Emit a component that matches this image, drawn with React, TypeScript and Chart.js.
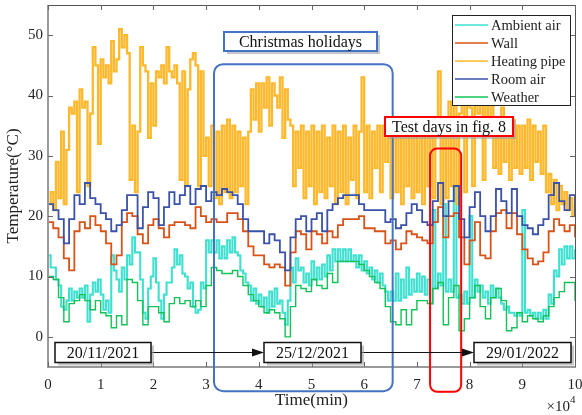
import { useEffect, useRef } from "react";
import { Chart, registerables } from "chart.js";

Chart.register(...registerables);

// ---------- data ----------
const FINE_STEP = 500; // minutes between samples (ambient air, heating pipe)
const COARSE_STEP = 1000; // minutes between samples (wall, room air, weather)
const X_TICKS = [0, 10000, 20000, 30000, 40000, 50000, 60000, 70000, 80000, 90000, 100000];
const Y_TICKS = [0, 10, 20, 30, 40, 50];

const SERIES_NAMES = ["Ambient air", "Wall", "Heating pipe", "Room air", "Weather"];

const AMBIENT_AIR = [
  13.5, 11.5, 11.5, 9.5, 8.5, 5, 4.5, 6, 8, 6,
  7.5, 6.5, 8, 6.5, 8.5, 2.5, 7, 9, 7.5, 9.5,
  7, 4.5, 6, 4, 13.5, 11, 9.5, 7.5, 11.5, 9.5,
  13.5, 12, 16.5, 14, 14, 9.5, 4, 3, 8, 10,
  13, 9, 6, 3, 7, 9, 9, 11.5, 14.5, 12,
  13.5, 10.5, 10, 8, 9, 5, 4, 4.5, 9, 8,
  16, 14, 16, 14, 16, 13, 15, 13, 16, 14,
  16.5, 14, 13.5, 11, 10.5, 9, 8.5, 6, 8, 5.5,
  7, 5, 6.5, 4, 7.5, 5, 8, 5.5, 6, 4,
  2, 6, 11.5, 9, 13, 11, 11.5, 9, 10.5, 8.5,
  12.5, 9.5, 11.5, 9.5, 12, 10, 13.5, 11, 14.5, 12.5,
  14.5, 12.5, 14.5, 12.5, 14.5, 12.5, 13.5, 11.5, 13.5, 11,
  12.5, 10.5, 11.5, 9.5, 11, 9, 10.5, 8.5, 7.5, 6,
  7.5, 6, 10.5, 6, 9.5, 6.5, 11.5, 7, 9.5, 7.5,
  10.5, 7.5, 10, 7, 9.5, 5.5, 21, 8, 10.5, 8.5,
  22, 7.5, 9.5, 7.5, 25, 6.5, 7, 5.5, 7.5, 5.5,
  20, 6.5, 9.5, 7.5, 8.5, 6.5, 7.5, 5.5, 8.5, 6.5,
  8, 6.5, 5.5, 4.5, 5, 4, 4, 3.5, 4, 3.5,
  21, 4, 4.5, 3.5, 4, 3, 4, 3, 4.5, 3,
  7, 5.5, 11, 10, 14.5, 12, 15, 13, 15, 13,
  14.5,
];

const HEATING_PIPE = [
  22, 24, 21, 29, 23, 34, 22, 31, 38, 37,
  39, 24, 41, 38, 39, 25, 37, 48, 45, 32,
  46, 43, 45, 42, 49, 44, 46, 51, 48, 50,
  47, 26, 35, 24, 34, 48, 45, 44, 33, 42,
  35, 44, 43, 45, 42, 48, 44, 43, 45, 42,
  26, 44, 25, 41, 46, 47, 45, 25, 44, 30,
  33, 25, 35, 23, 34, 22, 35, 24, 36, 23,
  35, 24, 34, 25, 33, 22, 34, 41, 36, 42,
  34, 42, 38, 43, 35, 42, 40, 38, 43, 33,
  41, 36, 35, 25, 34, 28, 35, 23, 34, 25,
  35, 22, 34, 24, 35, 23, 33, 25, 35, 22,
  34, 24, 35, 22, 33, 26, 35, 23, 34, 43,
  24, 35, 23, 34, 28, 35, 24, 35, 29, 34,
  23, 35, 24, 34, 22, 35, 25, 34, 23, 35,
  24, 34, 22, 35, 25, 33, 23, 34, 44, 22,
  36, 23, 39, 25, 40, 22, 37, 42, 24, 44,
  38, 25, 43, 37, 40, 26, 39, 36, 41, 28,
  36, 27, 38, 29, 35, 26, 36, 28, 35, 27,
  35, 28, 36, 26, 35, 29, 34, 27, 35, 24,
  27, 22, 26, 21, 25, 22, 24, 21, 23, 20, 22,
];

const WALL = [
  19, 18, 16.5, 13, 11, 17.5, 19, 18, 20, 18.5,
  17.5, 15.5, 12, 13.5, 19, 20.5, 20, 17, 15.5, 18.5,
  19.5, 18, 16.5, 18.5, 19, 19, 18.5, 18, 21.5, 20,
  19, 19.5, 19, 19, 20.5, 20.5, 19.5, 17.5, 15, 13.5,
  13.5, 12, 11.5, 12, 11.5, 8.5, 14, 17.5, 17, 14.5,
  17.5, 17, 15.5, 17.5, 16.5, 18.5, 19.5, 19.5, 19.5, 20,
  18, 18, 17.5, 17.5, 15.5, 16, 14.5, 15.5, 17.5, 17,
  16.5, 16, 15.5, 19, 21.5, 16.5, 20, 20.5, 16.5, 12,
  16, 19, 13.5, 13, 17.5, 20.5, 21, 18, 20.5, 17,
  14.5, 13, 12, 12.5, 14, 17.5, 19.5, 18.5, 17.5, 18.5,
  16.5,
];

const ROOM_AIR = [
  22, 21, 19.5, 15.5, 19.5, 23.5, 22, 25.5, 23, 22,
  20.5, 19.5, 17.5, 18.5, 21, 23.5, 23.5, 18, 21.5, 24,
  23, 18.5, 21.5, 24, 22, 23.5, 25, 22, 24.5, 25,
  22.5, 24, 23.5, 24.5, 24, 23.5, 22, 19.5, 17.5, 17.5,
  17.5, 15.5, 17, 16, 14, 11, 16.5, 19.5, 20, 17.5,
  19.5, 20.5, 17.5, 21, 22, 23, 23.5, 23.5, 23.5, 22,
  21, 21, 21, 21, 19, 19.5, 18, 18.5, 20.5, 22,
  21, 19, 18.5, 22.5, 25.5, 20, 22.5, 25, 19.5, 16.5,
  21.5, 24, 20, 17.5, 20, 24.5, 22.5, 20.5, 24.5, 20,
  18.5, 18, 17, 18.5, 19.5, 23.5, 25.5, 22.5, 21, 23.5,
  20,
];

const WEATHER = [
  10, 9.5, 6.5, 2.5, 5.5, 6, 7, 6, 4.5, 6,
  4, 3.5, 1.5, 3.5, 2, 9.5, 9, 6, 2, 5,
  5, 4, 2.5, 5.5, 6.5, 5.5, 6, 5, 6, 5,
  8.5, 11.5, 11, 10.5, 10.5, 11, 10, 8.5, 7, 6,
  5, 4, 4.5, 4, 3, 0, 5, 8.5, 8, 7.5,
  9.5, 8.5, 8, 10.5, 9, 12.5, 12.5, 12.5, 12.5, 12,
  11, 10, 9, 8, 5, 2.5, 2, 4.5, 2, 4.5,
  6, 6, 5.5, 8, 9, 2, 6.5, 8.5, 1, 3,
  6.5, 8.5, 5, 3, 6.5, 8, 6, 1, 1.5, 4,
  2.5, 3.5, 3, 2.5, 3.5, 5, 6.5, 7.5, 9, 9,
  6,
];

// ---------- annotations ----------
const DATE_LABELS = ["20/11/2021", "25/12/2021", "29/01/2022"];
const HOLIDAY_LABEL = "Christmas holidays";
const TEST_LABEL = "Test days in fig. 8";

const COLORS = ["#40E0D0", "#D95319", "#FDB82C", "#3A52A8", "#14C258"];
const WIDTHS = [2.1, 1.8, 2.3, 1.8, 1.4];

const SERIF = '"Liberation Serif", "Times New Roman", serif';

function toPoints(values: number[], step: number) {
  return values.map((v, i) => ({ x: i * step, y: v }));
}

function roundRect(ctx: CanvasRenderingContext2D, x0: number, y0: number, x1: number, y1: number, r: number) {
  ctx.beginPath();
  ctx.moveTo(x0 + r, y0);
  ctx.lineTo(x1 - r, y0);
  ctx.arcTo(x1, y0, x1, y0 + r, r);
  ctx.lineTo(x1, y1 - r);
  ctx.arcTo(x1, y1, x1 - r, y1, r);
  ctx.lineTo(x0 + r, y1);
  ctx.arcTo(x0, y1, x0, y1 - r, r);
  ctx.lineTo(x0, y0 + r);
  ctx.arcTo(x0, y0, x0 + r, y0, r);
  ctx.closePath();
}

function textBox(ctx: CanvasRenderingContext2D, text: string, cx: number, cy: number, w: number, h: number, color: string, lw: number, font: string) {
  const x0 = cx - w / 2;
  const y0 = cy - h / 2;
  ctx.fillStyle = "rgba(160,160,160,0.6)";
  ctx.fillRect(x0 + 3, y0 + 3, w, h);
  ctx.fillStyle = "#fff";
  ctx.fillRect(x0, y0, w, h);
  ctx.strokeStyle = color;
  ctx.lineWidth = lw;
  ctx.strokeRect(x0, y0, w, h);
  ctx.fillStyle = "#111";
  ctx.font = font;
  ctx.textAlign = "center";
  ctx.textBaseline = "middle";
  ctx.fillText(text, cx, cy + 1);
}

const decorPlugin = {
  id: "decor",
  afterDraw(chart: any) {
    const { ctx, chartArea: a, scales } = chart;
    const xs = scales.x;
    const ys = scales.y;
    ctx.save();

    // frame
    ctx.strokeStyle = "#555";
    ctx.lineWidth = 1;
    ctx.beginPath();
    ctx.moveTo(a.left, a.top + 0.5);
    ctx.lineTo(a.right + 0.5, a.top + 0.5);
    ctx.lineTo(a.right + 0.5, a.bottom);
    ctx.stroke();
    ctx.strokeStyle = "#9a9a9a";
    ctx.lineWidth = 2;
    ctx.beginPath();
    ctx.moveTo(a.left, a.top);
    ctx.lineTo(a.left, a.bottom);
    ctx.lineTo(a.right + 1, a.bottom);
    ctx.stroke();

    // inward ticks
    ctx.strokeStyle = "#666";
    ctx.lineWidth = 1;
    ctx.beginPath();
    for (const v of X_TICKS) {
      const px = Math.round(xs.getPixelForValue(v)) + 0.5;
      ctx.moveTo(px, a.bottom);
      ctx.lineTo(px, a.bottom - 5);
      ctx.moveTo(px, a.top);
      ctx.lineTo(px, a.top + 5);
    }
    for (const v of Y_TICKS) {
      const py = Math.round(ys.getPixelForValue(v)) + 0.5;
      ctx.moveTo(a.left, py);
      ctx.lineTo(a.left + 5, py);
      ctx.moveTo(a.right, py);
      ctx.lineTo(a.right - 5, py);
    }
    ctx.stroke();

    // axis titles
    ctx.fillStyle = "#222";
    ctx.font = `17px ${SERIF}`;
    ctx.textAlign = "center";
    ctx.textBaseline = "middle";
    ctx.fillText("Time(min)", (a.left + a.right) / 2, 401);
    ctx.save();
    ctx.translate(14, 186);
    ctx.rotate(-Math.PI / 2);
    ctx.fillText("Temperature(\u00B0C)", 0, 0);
    ctx.restore();
    ctx.font = `15px ${SERIF}`;
    ctx.textAlign = "right";
    ctx.fillText("\u00D710", 570, 407);
    ctx.font = `11px ${SERIF}`;
    ctx.textAlign = "left";
    ctx.fillText("4", 570, 400);

    // holiday rounded box
    ctx.strokeStyle = "#4472C4";
    ctx.lineWidth = 2;
    roundRect(ctx, xs.getPixelForValue(31500), ys.getPixelForValue(45.2), xs.getPixelForValue(65400), ys.getPixelForValue(-9), 9);
    ctx.stroke();
    // test-days rounded box
    ctx.strokeStyle = "#FF0000";
    roundRect(ctx, xs.getPixelForValue(72500), ys.getPixelForValue(31.2), xs.getPixelForValue(78400), ys.getPixelForValue(-9.1), 7);
    ctx.stroke();

    // label boxes
    textBox(ctx, HOLIDAY_LABEL, 300.5, 41.5, 153, 19, "#4472C4", 2, `16px ${SERIF}`);
    textBox(ctx, TEST_LABEL, 449, 126.5, 128, 19, "#FF0000", 2, `16px ${SERIF}`);

    // date arrows
    const ay = 352.5;
    const boxes = [
      [103, 96],
      [312.5, 97],
      [522.5, 97],
    ];
    ctx.strokeStyle = "#111";
    ctx.fillStyle = "#111";
    ctx.lineWidth = 1;
    for (let i = 0; i < boxes.length - 1; i++) {
      const x0 = boxes[i][0] + boxes[i][1] / 2;
      const x1 = boxes[i + 1][0] - boxes[i + 1][1] / 2;
      ctx.beginPath();
      ctx.moveTo(x0, ay);
      ctx.lineTo(x1 - 10, ay);
      ctx.stroke();
      ctx.beginPath();
      ctx.moveTo(x1, ay);
      ctx.lineTo(x1 - 12, ay - 4);
      ctx.lineTo(x1 - 12, ay + 4);
      ctx.closePath();
      ctx.fill();
    }
    boxes.forEach((b, i) => {
      textBox(ctx, DATE_LABELS[i], b[0], ay, b[1], 20, "#111", 1.5, `16px ${SERIF}`);
    });

    // legend
    const lx0 = 452, ly0 = 15, lx1 = 570, ly1 = 105;
    ctx.fillStyle = "#fff";
    ctx.fillRect(lx0, ly0, lx1 - lx0, ly1 - ly0);
    ctx.strokeStyle = "#222";
    ctx.lineWidth = 1;
    ctx.strokeRect(lx0 + 0.5, ly0 + 0.5, lx1 - lx0, ly1 - ly0);
    ctx.font = `14.5px ${SERIF}`;
    ctx.textAlign = "left";
    ctx.textBaseline = "middle";
    chart.data.datasets.forEach((ds: any, i: number) => {
      const yy = 25 + i * 18;
      ctx.strokeStyle = ds.borderColor;
      ctx.lineWidth = 1.5;
      ctx.beginPath();
      ctx.moveTo(455, yy);
      ctx.lineTo(488, yy);
      ctx.stroke();
      ctx.fillStyle = "#222";
      ctx.fillText(ds.label, 491, yy + 1);
    });

    ctx.restore();
  },
};

export default function App() {
  const ref = useRef<HTMLCanvasElement | null>(null);

  useEffect(() => {
    document.body.style.margin = "0";
    const canvas = ref.current;
    if (!canvas) return;
    const seriesData = [
      toPoints(AMBIENT_AIR, FINE_STEP),
      toPoints(WALL, COARSE_STEP),
      toPoints(HEATING_PIPE, FINE_STEP),
      toPoints(ROOM_AIR, COARSE_STEP),
      toPoints(WEATHER, COARSE_STEP),
    ];
    const chart = new Chart(canvas, {
      type: "line",
      data: {
        datasets: seriesData.map((d, i) => ({
          label: SERIES_NAMES[i],
          data: d,
          borderColor: COLORS[i],
          backgroundColor: COLORS[i],
          borderWidth: WIDTHS[i],
          pointRadius: 0,
          stepped: true,
          fill: false,
          order: 5 - i,
        })),
      },
      plugins: [decorPlugin],
      options: {
        responsive: false,
        animation: false,
        layout: { padding: { top: 5, right: 7, left: 0, bottom: 0 } },
        plugins: { legend: { display: false }, tooltip: { enabled: false } },
        scales: {
          x: {
            type: "linear",
            min: 0,
            max: 100000,
            grid: { display: false, drawTicks: false },
            border: { display: false },
            afterBuildTicks: (s: any) => {
              s.ticks = X_TICKS.map((v) => ({ value: v }));
            },
            afterFit: (s: any) => {
              s.height = 48;
              s.paddingLeft = 0;
              s.paddingRight = 0;
            },
            ticks: {
              maxRotation: 0,
              autoSkip: false,
              padding: 9,
              color: "#262626",
              font: { family: SERIF, size: 15 },
              callback: (v: any) => String(Number(v) / 10000),
            },
          },
          y: {
            type: "linear",
            min: -5,
            max: 55,
            grid: { display: false, drawTicks: false },
            border: { display: false },
            afterBuildTicks: (s: any) => {
              s.ticks = Y_TICKS.map((v) => ({ value: v }));
            },
            afterFit: (s: any) => {
              s.width = 48;
              s.paddingTop = 0;
              s.paddingBottom = 0;
            },
            ticks: {
              autoSkip: false,
              padding: 5,
              color: "#262626",
              font: { family: SERIF, size: 15 },
              callback: (v: any) => String(v),
            },
          },
        },
      },
    });
    return () => chart.destroy();
  }, []);

  return <canvas ref={ref} width={582} height={415} style={{ display: "block" }} />;
}
